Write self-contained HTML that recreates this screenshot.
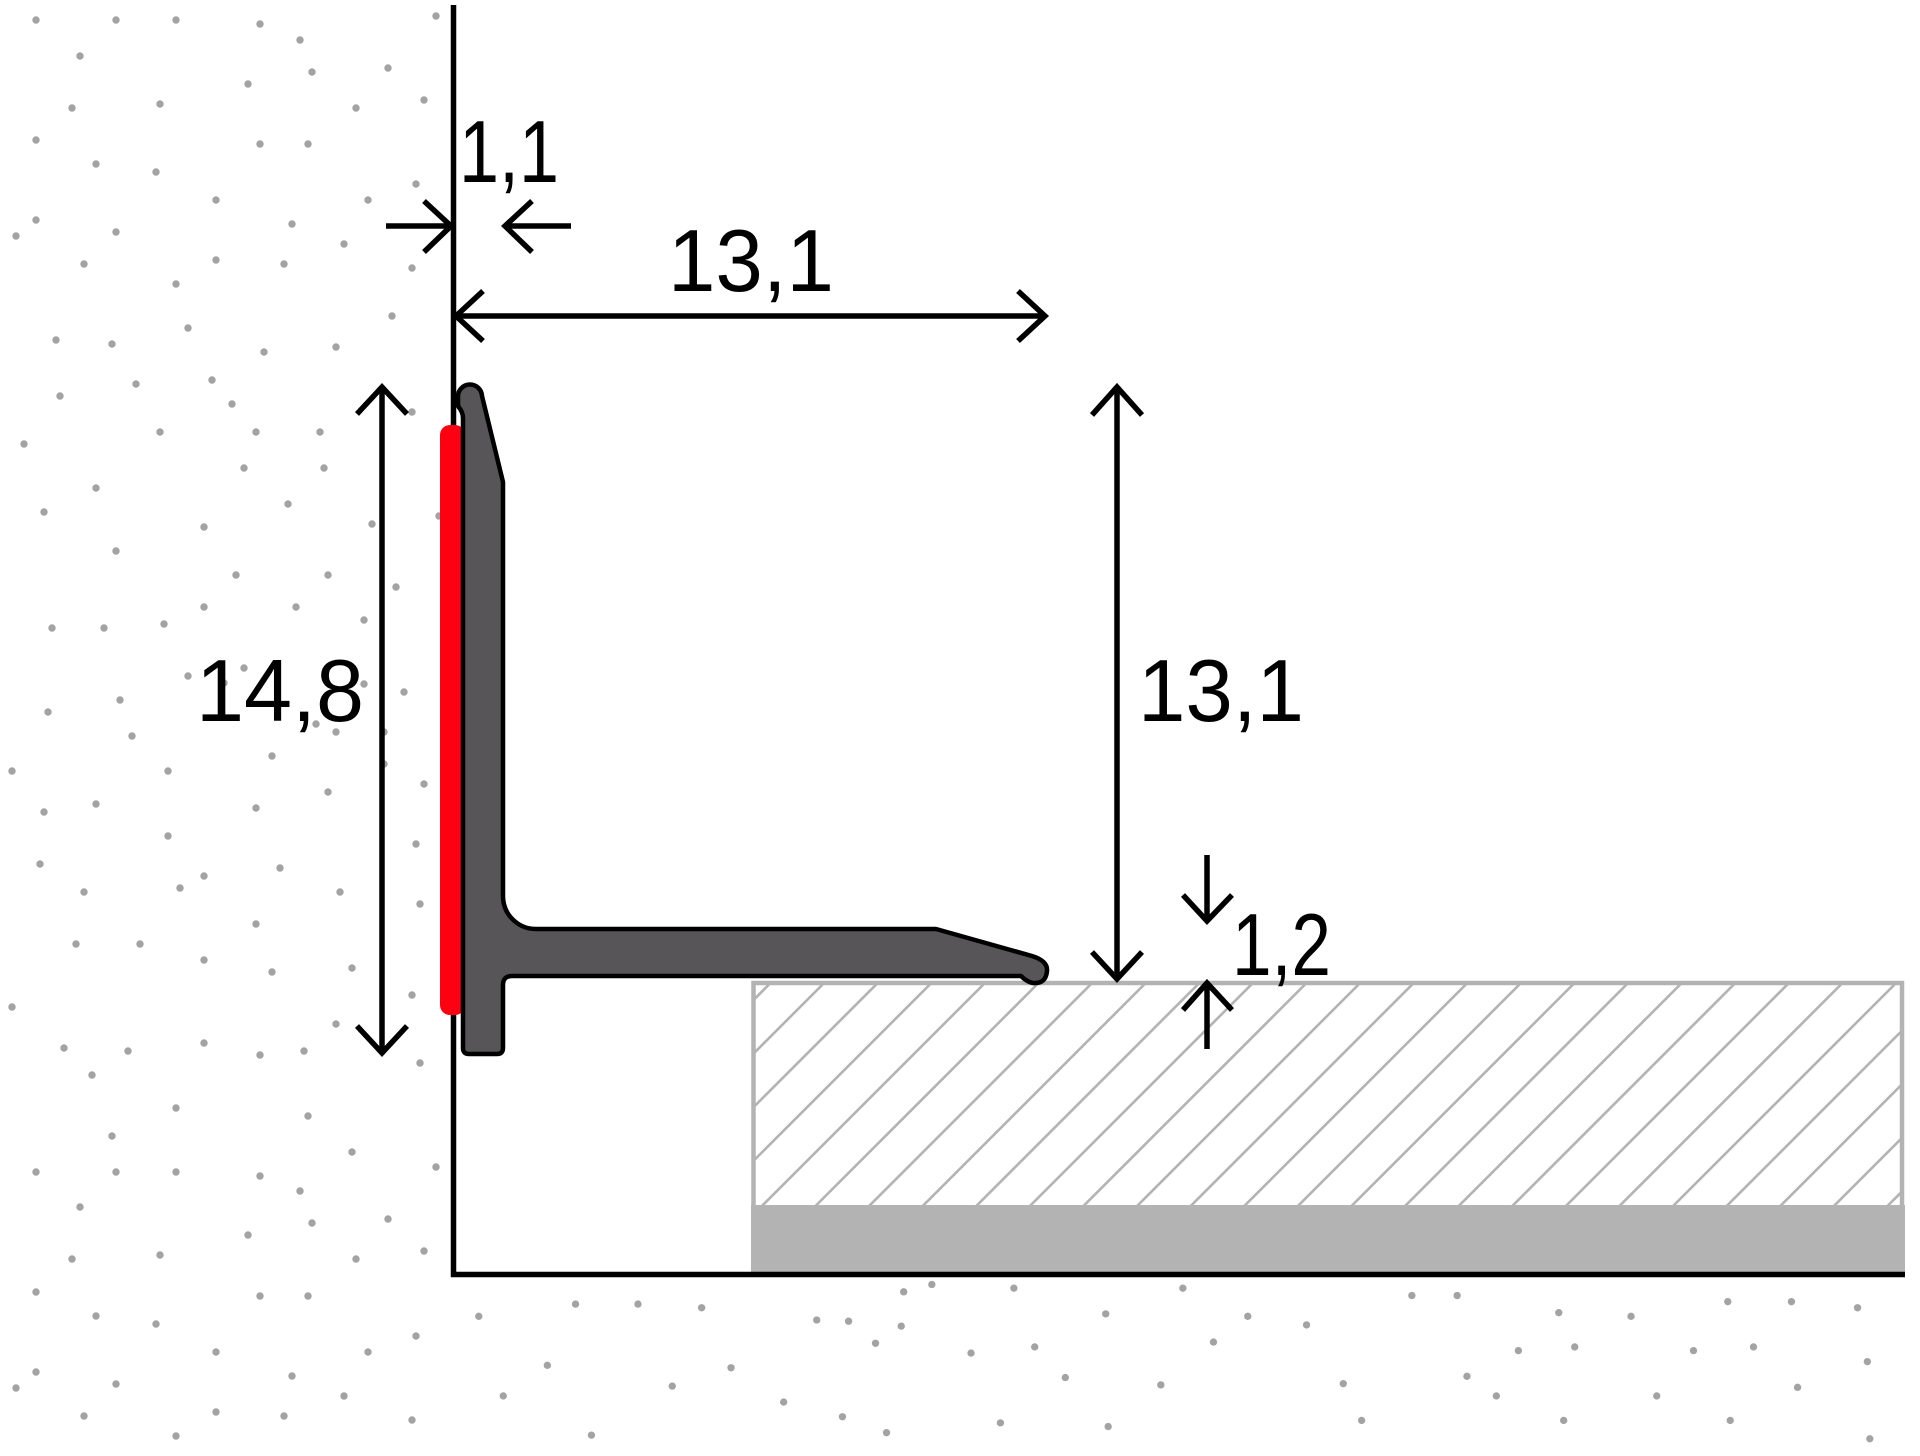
<!DOCTYPE html>
<html>
<head>
<meta charset="utf-8">
<style>
html,body{margin:0;padding:0;background:#fff;}
svg{display:block;}
text{font-family:"Liberation Sans",Arial,sans-serif;font-size:88px;fill:#000;}
</style>
</head>
<body>
<svg width="1920" height="1456" viewBox="0 0 1920 1456" xmlns="http://www.w3.org/2000/svg">
<rect width="1920" height="1456" fill="#fff"/>
<defs>
<clipPath id="hc"><rect x="755.5" y="985" width="1144.5" height="220"/></clipPath>
</defs>

<!-- dots (wall + lower left) -->
<g fill="#a3a3a3">
<circle cx="36" cy="20" r="3.7"/><circle cx="116" cy="20" r="3.7"/><circle cx="176" cy="20" r="3.7"/><circle cx="260" cy="24" r="3.7"/><circle cx="300" cy="40" r="3.7"/><circle cx="436" cy="16" r="3.7"/>
<circle cx="80" cy="56" r="3.7"/><circle cx="312" cy="72" r="3.7"/><circle cx="388" cy="68" r="3.7"/><circle cx="248" cy="84" r="3.7"/><circle cx="72" cy="108" r="3.7"/><circle cx="160" cy="104" r="3.7"/><circle cx="356" cy="108" r="3.7"/><circle cx="424" cy="100" r="3.7"/>
<circle cx="36" cy="140" r="3.7"/><circle cx="260" cy="144" r="3.7"/><circle cx="308" cy="144" r="3.7"/><circle cx="96" cy="164" r="3.7"/><circle cx="156" cy="172" r="3.7"/><circle cx="416" cy="184" r="3.7"/><circle cx="216" cy="200" r="3.7"/><circle cx="368" cy="200" r="3.7"/>
<circle cx="36" cy="220" r="3.7"/><circle cx="16" cy="236" r="3.7"/><circle cx="116" cy="232" r="3.7"/><circle cx="292" cy="224" r="3.7"/><circle cx="344" cy="244" r="3.7"/><circle cx="84" cy="264" r="3.7"/><circle cx="216" cy="260" r="3.7"/><circle cx="284" cy="264" r="3.7"/><circle cx="412" cy="268" r="3.7"/><circle cx="176" cy="284" r="3.7"/>
<circle cx="392" cy="316" r="3.7"/><circle cx="188" cy="328" r="3.7"/><circle cx="56" cy="340" r="3.7"/><circle cx="112" cy="344" r="3.7"/><circle cx="264" cy="352" r="3.7"/><circle cx="336" cy="347" r="3.7"/><circle cx="136" cy="384" r="3.7"/><circle cx="212" cy="380" r="3.7"/><circle cx="60" cy="396" r="3.7"/><circle cx="232" cy="404" r="3.7"/><circle cx="412" cy="412" r="3.7"/>
<circle cx="160" cy="432" r="3.7"/><circle cx="256" cy="432" r="3.7"/><circle cx="320" cy="432" r="3.7"/><circle cx="24" cy="444" r="3.7"/><circle cx="244" cy="468" r="3.7"/><circle cx="324" cy="468" r="3.7"/><circle cx="96" cy="488" r="3.7"/><circle cx="288" cy="504" r="3.7"/><circle cx="44" cy="512" r="3.7"/><circle cx="204" cy="527" r="3.7"/><circle cx="372" cy="524" r="3.7"/><circle cx="439" cy="516" r="3.7"/>
<circle cx="116" cy="551" r="3.7"/><circle cx="236" cy="575" r="3.7"/><circle cx="328" cy="575" r="3.7"/><circle cx="396" cy="587" r="3.7"/><circle cx="204" cy="607" r="3.7"/><circle cx="296" cy="607" r="3.7"/><circle cx="364" cy="620" r="3.7"/><circle cx="52" cy="628" r="3.7"/><circle cx="104" cy="628" r="3.7"/><circle cx="164" cy="624" r="3.7"/>
<circle cx="188" cy="676" r="3.7"/><circle cx="244" cy="668" r="3.7"/><circle cx="224" cy="683" r="3.7"/><circle cx="364" cy="684" r="3.7"/><circle cx="404" cy="692" r="3.7"/><circle cx="48" cy="712" r="3.7"/><circle cx="120" cy="700" r="3.7"/><circle cx="132" cy="736" r="3.7"/><circle cx="316" cy="724" r="3.7"/><circle cx="336" cy="732" r="3.7"/><circle cx="384" cy="732" r="3.7"/>
<circle cx="272" cy="756" r="3.7"/><circle cx="384" cy="764" r="3.7"/><circle cx="12" cy="771" r="3.7"/><circle cx="168" cy="771" r="3.7"/><circle cx="424" cy="784" r="3.7"/><circle cx="328" cy="792" r="3.7"/><circle cx="44" cy="812" r="3.7"/><circle cx="96" cy="804" r="3.7"/><circle cx="256" cy="808" r="3.7"/><circle cx="168" cy="836" r="3.7"/><circle cx="416" cy="844" r="3.7"/>
<circle cx="40" cy="864" r="3.7"/><circle cx="280" cy="868" r="3.7"/><circle cx="204" cy="876" r="3.7"/><circle cx="180" cy="888" r="3.7"/><circle cx="84" cy="892" r="3.7"/><circle cx="340" cy="892" r="3.7"/><circle cx="420" cy="904" r="3.7"/><circle cx="256" cy="924" r="3.7"/><circle cx="76" cy="944" r="3.7"/><circle cx="140" cy="944" r="3.7"/><circle cx="204" cy="960" r="3.7"/><circle cx="272" cy="972" r="3.7"/><circle cx="352" cy="968" r="3.7"/><circle cx="412" cy="995" r="3.7"/>
<circle cx="12" cy="1007" r="3.7"/><circle cx="336" cy="1024" r="3.7"/><circle cx="64" cy="1048" r="3.7"/><circle cx="128" cy="1051" r="3.7"/><circle cx="204" cy="1043" r="3.7"/><circle cx="260" cy="1055" r="3.7"/><circle cx="304" cy="1051" r="3.7"/><circle cx="420" cy="1063" r="3.7"/><circle cx="92" cy="1075" r="3.7"/><circle cx="176" cy="1108" r="3.7"/><circle cx="308" cy="1116" r="3.7"/><circle cx="112" cy="1136" r="3.7"/><circle cx="352" cy="1152" r="3.7"/><circle cx="436" cy="1167" r="3.7"/>
<circle cx="36" cy="1172" r="3.7"/><circle cx="116" cy="1172" r="3.7"/><circle cx="176" cy="1172" r="3.7"/><circle cx="260" cy="1176" r="3.7"/><circle cx="300" cy="1191" r="3.7"/><circle cx="80" cy="1207" r="3.7"/><circle cx="312" cy="1223" r="3.7"/><circle cx="388" cy="1219" r="3.7"/><circle cx="248" cy="1235" r="3.7"/><circle cx="72" cy="1259" r="3.7"/><circle cx="160" cy="1255" r="3.7"/><circle cx="356" cy="1259" r="3.7"/><circle cx="424" cy="1251" r="3.7"/>
<circle cx="36" cy="1292" r="3.7"/><circle cx="260" cy="1296" r="3.7"/><circle cx="308" cy="1296" r="3.7"/><circle cx="96" cy="1316" r="3.7"/><circle cx="156" cy="1324" r="3.7"/><circle cx="416" cy="1336" r="3.7"/><circle cx="216" cy="1352" r="3.7"/><circle cx="368" cy="1352" r="3.7"/><circle cx="36" cy="1372" r="3.7"/><circle cx="16" cy="1388" r="3.7"/><circle cx="116" cy="1384" r="3.7"/><circle cx="292" cy="1376" r="3.7"/><circle cx="344" cy="1396" r="3.7"/><circle cx="84" cy="1416" r="3.7"/><circle cx="216" cy="1412" r="3.7"/><circle cx="284" cy="1416" r="3.7"/><circle cx="412" cy="1420" r="3.7"/><circle cx="176" cy="1436" r="3.7"/>
</g>
<!-- dots (floor, right of wall) -->
<g fill="#a3a3a3" transform="scale(1.2245)">
<circle cx="391" cy="1075" r="3"/><circle cx="470" cy="1065" r="3"/><circle cx="521" cy="1065" r="3"/><circle cx="573" cy="1068" r="3"/><circle cx="667" cy="1078" r="3"/><circle cx="693" cy="1079" r="3"/><circle cx="738" cy="1055" r="3"/><circle cx="761" cy="1049" r="3"/><circle cx="736" cy="1083" r="3"/><circle cx="828" cy="1052" r="3"/><circle cx="903" cy="1073" r="3"/><circle cx="966" cy="1052" r="3"/><circle cx="1019" cy="1075" r="3"/><circle cx="1067" cy="1082" r="3"/><circle cx="1153" cy="1058" r="3"/><circle cx="1190" cy="1058" r="3"/><circle cx="1273" cy="1072" r="3"/><circle cx="1332" cy="1075" r="3"/><circle cx="1411" cy="1063" r="3"/><circle cx="1463" cy="1063" r="3"/><circle cx="1517" cy="1068" r="3"/>
<circle cx="447" cy="1115" r="3"/><circle cx="549" cy="1132" r="3"/><circle cx="597" cy="1117" r="3"/><circle cx="715" cy="1097" r="3"/><circle cx="793" cy="1105" r="3"/><circle cx="845" cy="1100" r="3"/><circle cx="991" cy="1096" r="3"/><circle cx="1240" cy="1103" r="3"/><circle cx="1286" cy="1100" r="3"/><circle cx="1383" cy="1103" r="3"/><circle cx="1432" cy="1100" r="3"/><circle cx="1525" cy="1112" r="3"/>
<circle cx="411" cy="1140" r="3"/><circle cx="640" cy="1145" r="3"/><circle cx="870" cy="1125" r="3"/><circle cx="948" cy="1131" r="3"/><circle cx="1097" cy="1130" r="3"/><circle cx="1198" cy="1124" r="3"/><circle cx="1222" cy="1140" r="3"/><circle cx="1353" cy="1140" r="3"/><circle cx="1468" cy="1133" r="3"/>
<circle cx="688" cy="1157" r="3"/><circle cx="817" cy="1162" r="3"/><circle cx="905" cy="1165" r="3"/><circle cx="1112" cy="1160" r="3"/><circle cx="1277" cy="1160" r="3"/><circle cx="1413" cy="1160" r="3"/><circle cx="483" cy="1172" r="3"/><circle cx="724" cy="1170" r="3"/><circle cx="1527" cy="1175" r="3"/>
</g>

<!-- tile hatched -->
<g clip-path="url(#hc)" stroke="#b3b3b3" stroke-width="2.6" fill="none">
<path d="M790.5 963L508.5 1245M844.1 963L562.1 1245M897.7 963L615.7 1245M951.3 963L669.3 1245M1004.9 963L722.9 1245M1058.5 963L776.5 1245M1112.1 963L830.1 1245M1165.7 963L883.7 1245M1219.3 963L937.3 1245M1272.9 963L990.9 1245M1326.5 963L1044.5 1245M1380.1 963L1098.1 1245M1433.7 963L1151.7 1245M1487.3 963L1205.3 1245M1540.9 963L1258.9 1245M1594.5 963L1312.5 1245M1648.1 963L1366.1 1245M1701.7 963L1419.7 1245M1755.3 963L1473.3 1245M1808.9 963L1526.9 1245M1862.5 963L1580.5 1245M1916.1 963L1634.1 1245M1969.7 963L1687.7 1245M2023.3 963L1741.3 1245M2076.9 963L1794.9 1245M2130.5 963L1848.5 1245"/>
</g>
<rect x="753.5" y="983" width="1148.5" height="240" fill="none" stroke="#b3b3b3" stroke-width="4.5"/>
<rect x="751" y="1205" width="1154" height="67" fill="#b3b3b3"/>

<!-- wall + floor line -->
<path d="M453.5 5 L453.5 1274.5 L1905 1274.5" fill="none" stroke="#000" stroke-width="5.5" stroke-linejoin="miter"/>

<!-- red strip -->
<rect x="440" y="425" width="25" height="590" rx="10" fill="#fe0011"/>

<!-- profile -->
<path d="M463 1046 L463 418 Q463 412 458 406 L458 397 A12 12 0 0 1 482 396 L503 482 L503 897 A33 33 0 0 0 536 929 L936 929 L1032 956 Q1048 961 1047 971 Q1046 984 1033 983 Q1027 982 1021 976 L512 976 Q503 976 503 985 L503 1048 Q503 1054 497 1054 L469 1054 Q463 1054 463 1048 Z" fill="#575557" stroke="#000" stroke-width="4.5" stroke-linejoin="round"/>

<!-- dimension arrows -->
<g fill="none" stroke="#000" stroke-width="5.5" stroke-linejoin="miter" stroke-miterlimit="10">
<!-- 1,1 -->
<path d="M386 226 L450 226"/><path d="M424 201 L451 226 L424 252"/>
<path d="M506 226 L571 226"/><path d="M532 201 L505 226 L532 252"/>
<!-- 13,1 horizontal -->
<path d="M457 316 L1044 316"/><path d="M483 291 L456 316 L483 341"/><path d="M1018 291 L1045 316 L1018 341"/>
<!-- 14,8 vertical -->
<path d="M382 388 L382 1052"/><path d="M357 414 L382 387 L407 414"/><path d="M357 1026 L382 1053 L407 1026"/>
<!-- 13,1 vertical -->
<path d="M1117 388 L1117 978"/><path d="M1092 415 L1117 387 L1142 415"/><path d="M1092 952 L1117 979 L1142 952"/>
<!-- 1,2 -->
<path d="M1207 855 L1207 920"/><path d="M1183 895 L1207 921 L1232 895"/>
<path d="M1207 984 L1207 1049"/><path d="M1183 1010 L1207 983 L1232 1010"/>
</g>

<!-- labels -->
<text x="459" y="182" textLength="100" lengthAdjust="spacingAndGlyphs">1,1</text>
<text x="668" y="291" textLength="166" lengthAdjust="spacingAndGlyphs">13,1</text>
<text x="196" y="721" textLength="168" lengthAdjust="spacingAndGlyphs">14,8</text>
<text x="1138" y="721" textLength="166" lengthAdjust="spacingAndGlyphs">13,1</text>
<text x="1232" y="975" textLength="99" lengthAdjust="spacingAndGlyphs">1,2</text>
</svg>
</body>
</html>
